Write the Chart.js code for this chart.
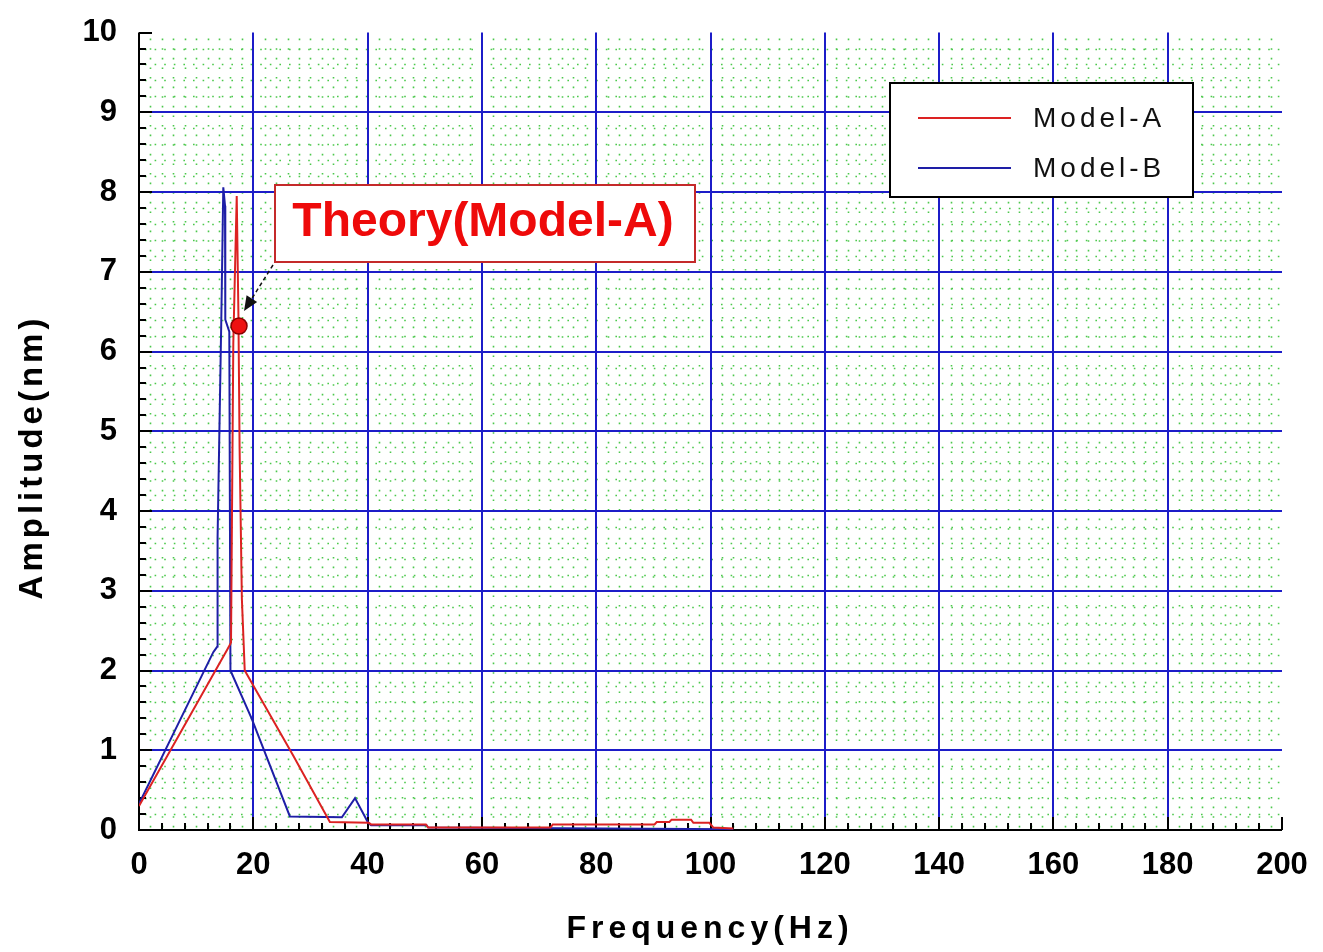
<!DOCTYPE html>
<html>
<head>
<meta charset="utf-8">
<title>Amplitude vs Frequency</title>
<script src="https://cdn.jsdelivr.net/npm/chart.js@4.4.0/dist/chart.umd.min.js"></script>
<style>
  body { margin: 0; background: #fff; }
</style>
</head>
<body>
<canvas id="ampChart" width="1323" height="952"></canvas>
<script>
// Values (Hz / nm)
const modelAFreq = [0, 15.5, 16.1, 16.5, 17.1, 17.4, 17.6, 18.0, 18.5, 27.0, 33.4, 40.2, 40.6, 50.2, 50.6, 72.0, 72.4, 90.2, 90.6, 92.8, 93.2, 96.6, 97.0, 99.8, 100.5, 104];
const modelAAmp  = [0.30, 2.27, 2.35, 6.10, 7.95, 6.45, 4.80, 2.90, 2.00, 0.93, 0.10, 0.09, 0.07, 0.07, 0.03, 0.03, 0.07, 0.07, 0.10, 0.10, 0.13, 0.13, 0.09, 0.09, 0.03, 0.02];

const modelBFreq = [0, 13.0, 13.7, 13.75, 14.4, 14.75, 15.05, 15.1, 15.8, 16.0, 19.7, 26.4, 35.5, 37.8, 40.1, 40.6, 50.3, 50.6, 104];
const modelBAmp  = [0.33, 2.23, 2.30, 3.67, 6.40, 8.06, 7.83, 6.40, 6.25, 2.00, 1.40, 0.17, 0.16, 0.40, 0.09, 0.06, 0.06, 0.03, 0.01];

const theoryFreq = [17.5];
const theoryAmp  = [6.32];

const seriesLabels = ['Model-A', 'Model-B'];
const xTicks = [0, 20, 40, 60, 80, 100, 120, 140, 160, 180, 200];
const yTicks = [0, 1, 2, 3, 4, 5, 6, 7, 8, 9, 10];

const FONT = '"Liberation Sans", Arial, sans-serif';

function toPoints(xs, ys) {
  return xs.map((v, i) => ({ x: v, y: ys[i] }));
}

function seg(ctx, x1, y1, x2, y2) {
  ctx.beginPath();
  ctx.moveTo(x1, y1);
  ctx.lineTo(x2, y2);
  ctx.stroke();
}

// grid, axes and inward ticks, drawn under the curves
const framePlugin = {
  id: 'frame',
  beforeDatasetsDraw(chart) {
    const { ctx, chartArea: a, scales: { x, y } } = chart;
    ctx.save();

    // dotted green minor grid
    ctx.strokeStyle = '#4cc84c';
    ctx.lineWidth = 1.6;
    ctx.setLineDash([1.6, 8]);
    for (let i = 1; i < 100; i++) {
      if (i % 10 === 0) continue;
      const px = Math.round(x.getPixelForValue(i * 2)) + 0.5;
      seg(ctx, px, a.top + 6, px, a.bottom);
    }
    for (let i = 1; i < 50; i++) {
      if (i % 5 === 0) continue;
      const py = Math.round(y.getPixelForValue(i * 0.2)) + 0.5;
      seg(ctx, a.left + 6, py, a.right, py);
    }

    // blue major grid
    ctx.setLineDash([]);
    ctx.strokeStyle = '#1c1cc8';
    ctx.lineWidth = 2;
    xTicks.forEach(v => {
      if (v === 0 || v === 200) return;
      const px = Math.round(x.getPixelForValue(v));
      seg(ctx, px, a.top, px, a.bottom);
    });
    yTicks.forEach(v => {
      if (v === 0 || v === 10) return;
      const py = Math.round(y.getPixelForValue(v));
      seg(ctx, a.left, py, a.right, py);
    });

    // axes
    ctx.strokeStyle = '#000';
    ctx.lineWidth = 2;
    seg(ctx, a.left, a.top, a.left, a.bottom + 1);
    seg(ctx, a.left, a.bottom, a.right, a.bottom);

    // inward ticks
    for (let i = 0; i <= 50; i++) {
      const len = i % 5 === 0 ? 13 : 7;
      const py = Math.round(y.getPixelForValue(i * 0.2));
      seg(ctx, a.left, py, a.left + len, py);
      const px = Math.round(x.getPixelForValue(i * 4));
      seg(ctx, px, a.bottom, px, a.bottom - len);
    }
    ctx.restore();
  },

  afterDatasetsDraw(chart) {
    const { ctx, scales: { x, y } } = chart;
    ctx.save();

    // Theory(Model-A) label box
    ctx.fillStyle = '#fff';
    ctx.fillRect(275, 185, 420, 77);
    ctx.strokeStyle = '#c42a2a';
    ctx.lineWidth = 2;
    ctx.strokeRect(275, 185, 420, 77);
    ctx.fillStyle = '#ee0a0a';
    ctx.font = 'bold 48px ' + FONT;
    ctx.textAlign = 'center';
    ctx.textBaseline = 'middle';
    ctx.fillText('Theory(Model-A)', 483, 223);

    // dashed arrow to the theory point
    const tx = x.getPixelForValue(theoryFreq[0]) + 5;
    const ty = y.getPixelForValue(theoryAmp[0]) - 15;
    const sx = 273, sy = 265;
    const ang = Math.atan2(ty - sy, tx - sx);
    ctx.strokeStyle = '#111';
    ctx.lineWidth = 1.5;
    ctx.setLineDash([4, 3]);
    seg(ctx, sx, sy, tx - 12 * Math.cos(ang), ty - 12 * Math.sin(ang));
    ctx.setLineDash([]);
    ctx.fillStyle = '#111';
    ctx.beginPath();
    ctx.moveTo(tx, ty);
    ctx.lineTo(tx - 16 * Math.cos(ang - 0.4), ty - 16 * Math.sin(ang - 0.4));
    ctx.lineTo(tx - 16 * Math.cos(ang + 0.4), ty - 16 * Math.sin(ang + 0.4));
    ctx.closePath();
    ctx.fill();

    // legend
    ctx.fillStyle = '#fff';
    ctx.fillRect(890, 83, 303, 114);
    ctx.strokeStyle = '#000';
    ctx.lineWidth = 2;
    ctx.strokeRect(890, 83, 303, 114);
    ctx.font = '28px ' + FONT;
    ctx.textAlign = 'left';
    ctx.textBaseline = 'middle';
    ctx.letterSpacing = '4px';
    chart.data.datasets.slice(0, 2).forEach((ds, i) => {
      const ly = 118 + i * 50;
      ctx.strokeStyle = ds.borderColor;
      ctx.lineWidth = 2;
      seg(ctx, 918, ly, 1011, ly);
      ctx.fillStyle = '#111';
      ctx.fillText(ds.label, 1033, ly + 1);
    });

    // axis titles
    ctx.fillStyle = '#000';
    ctx.font = 'bold 32px ' + FONT;
    ctx.textAlign = 'center';
    ctx.letterSpacing = '5px';
    ctx.fillText('Frequency(Hz)', 710, 929);
    ctx.translate(33, 457);
    ctx.rotate(-Math.PI / 2);
    ctx.font = 'bold 33px ' + FONT;
    ctx.letterSpacing = '4px';
    ctx.fillText('Amplitude(nm)', 0, 0);
    ctx.restore();
  }
};

const ctx = document.getElementById('ampChart').getContext('2d');
const ampChart = new Chart(ctx, {
  type: 'scatter',
  data: {
    datasets: [
      {
        label: seriesLabels[0],
        data: toPoints(modelAFreq, modelAAmp),
        showLine: true,
        borderColor: '#dc2222',
        borderWidth: 2,
        pointRadius: 0,
        tension: 0,
        order: 1
      },
      {
        label: seriesLabels[1],
        data: toPoints(modelBFreq, modelBAmp),
        showLine: true,
        borderColor: '#1e1ea6',
        borderWidth: 2,
        pointRadius: 0,
        tension: 0,
        order: 2
      },
      {
        label: 'Theory(Model-A)',
        data: toPoints(theoryFreq, theoryAmp),
        pointRadius: 8,
        backgroundColor: '#ee1111',
        borderColor: '#8a0000',
        borderWidth: 1.5,
        order: 0
      }
    ]
  },
  options: {
    responsive: false,
    animation: false,
    layout: { padding: { top: 18, right: 41, left: 0, bottom: 0 } },
    scales: {
      x: {
        type: 'linear',
        min: 0,
        max: 200,
        afterBuildTicks: scale => { scale.ticks = xTicks.map(v => ({ value: v })); },
        afterFit: scale => { scale.height = 122; },
        ticks: {
          padding: 9,
          color: '#000',
          font: { family: FONT, size: 31, weight: 'bold' }
        },
        grid: { display: false },
        border: { display: false }
      },
      y: {
        type: 'linear',
        min: 0,
        max: 10,
        afterBuildTicks: scale => { scale.ticks = yTicks.map(v => ({ value: v })); },
        afterFit: scale => { scale.width = 139; },
        ticks: {
          padding: 14,
          color: '#000',
          font: { family: FONT, size: 31, weight: 'bold' }
        },
        grid: { display: false },
        border: { display: false }
      }
    },
    plugins: {
      legend: { display: false },
      tooltip: { enabled: false }
    }
  },
  plugins: [framePlugin]
});
</script>
</body>
</html>
